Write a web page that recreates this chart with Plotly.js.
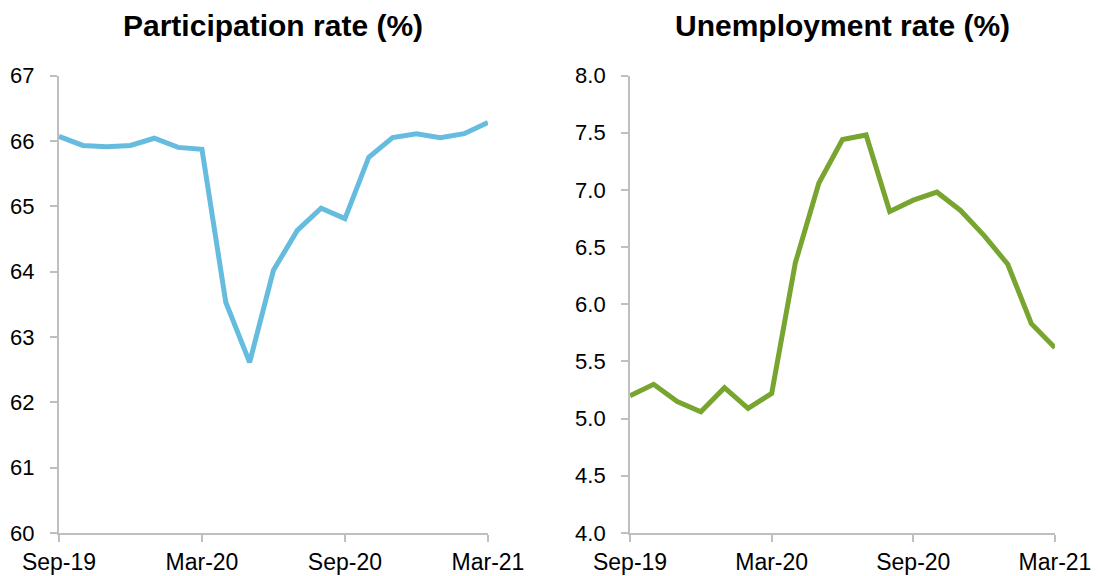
<!DOCTYPE html>
<html>
<head>
<meta charset="utf-8">
<script src="https://cdn.plot.ly/plotly-3.0.1.min.js"></script>
<style>html,body{margin:0;padding:0;background:#fff}#chart{width:1098px;height:576px}</style>
</head>
<body>
<div id="chart"></div>
<script>
const months = ["Sep-19","Oct-19","Nov-19","Dec-19","Jan-20","Feb-20","Mar-20","Apr-20","May-20","Jun-20","Jul-20","Aug-20","Sep-20","Oct-20","Nov-20","Dec-20","Jan-21","Feb-21","Mar-21"];
const participation = [66.07,65.93,65.91,65.93,66.04,65.90,65.87,63.53,62.61,64.02,64.63,64.97,64.81,65.75,66.05,66.11,66.05,66.11,66.28];
const unemployment = [5.20,5.30,5.15,5.06,5.27,5.09,5.22,6.36,7.06,7.44,7.48,6.81,6.91,6.98,6.82,6.60,6.35,5.83,5.62];
const xTicks = ["Sep-19","Mar-20","Sep-20","Mar-21"];
const titles = ["Participation rate (%)","Unemployment rate (%)"];

const FONT = "Liberation Sans, Arial, sans-serif";
const axisGray = "#BFBFBF";

const traces = [
  {x: months, y: participation, type: "scatter", mode: "lines", xaxis: "x", yaxis: "y",
   line: {color: "#66BCDE", width: 5}, hoverinfo: "x+y"},
  {x: months, y: unemployment, type: "scatter", mode: "lines", xaxis: "x2", yaxis: "y2",
   line: {color: "#77A530", width: 5}, hoverinfo: "x+y"}
];

function xAxis(domain, anchor) {
  return {domain: domain, anchor: anchor, type: "category", range: [0, months.length - 1],
    tickmode: "array", tickvals: xTicks, ticktext: xTicks,
    showline: true, linecolor: axisGray, linewidth: 2, ticks: "outside", ticklen: 7,
    tickcolor: axisGray, tickwidth: 2, showgrid: false, zeroline: false,
    ticklabelstandoff: 0, tickfont: {family: FONT, size: 23, color: "#000"}, fixedrange: true};
}
function yAxis(domain, anchor, range, dtick, fmt) {
  return {domain: domain, anchor: anchor, range: range, dtick: dtick, tick0: range[0], tickformat: fmt,
    showline: true, linecolor: axisGray, linewidth: 2, ticks: "outside", ticklen: 7,
    tickcolor: axisGray, tickwidth: 2, showgrid: false, zeroline: false,
    ticklabelstandoff: 11, tickfont: {family: FONT, size: 22, color: "#000"}, fixedrange: true};
}

const yDom = [0.0747, 0.8689];
const layout = {
  width: 1098, height: 576,
  margin: {l: 0, r: 0, t: 0, b: 0},
  paper_bgcolor: "#fff", plot_bgcolor: "#fff",
  showlegend: false,
  xaxis: xAxis([0.0537, 0.4444], "y"),
  yaxis: yAxis(yDom, "x", [60, 67], 1, "d"),
  xaxis2: xAxis([0.5738, 0.9608], "y2"),
  yaxis2: yAxis(yDom, "x2", [4, 8], 0.5, ".1f"),
  annotations: [
    {text: "<b>" + titles[0] + "</b>", xref: "paper", yref: "paper", x: (0.0537 + 0.4444) / 2, y: 1 - 26 / 576,
     xanchor: "center", yanchor: "middle", showarrow: false, font: {family: FONT, size: 30, color: "#000"}},
    {text: "<b>" + titles[1] + "</b>", xref: "paper", yref: "paper", x: (0.5738 + 0.9608) / 2, y: 1 - 26 / 576,
     xanchor: "center", yanchor: "middle", showarrow: false, font: {family: FONT, size: 30, color: "#000"}}
  ]
};

Plotly.newPlot("chart", traces, layout, {displayModeBar: false, staticPlot: true});
</script>
</body>
</html>
